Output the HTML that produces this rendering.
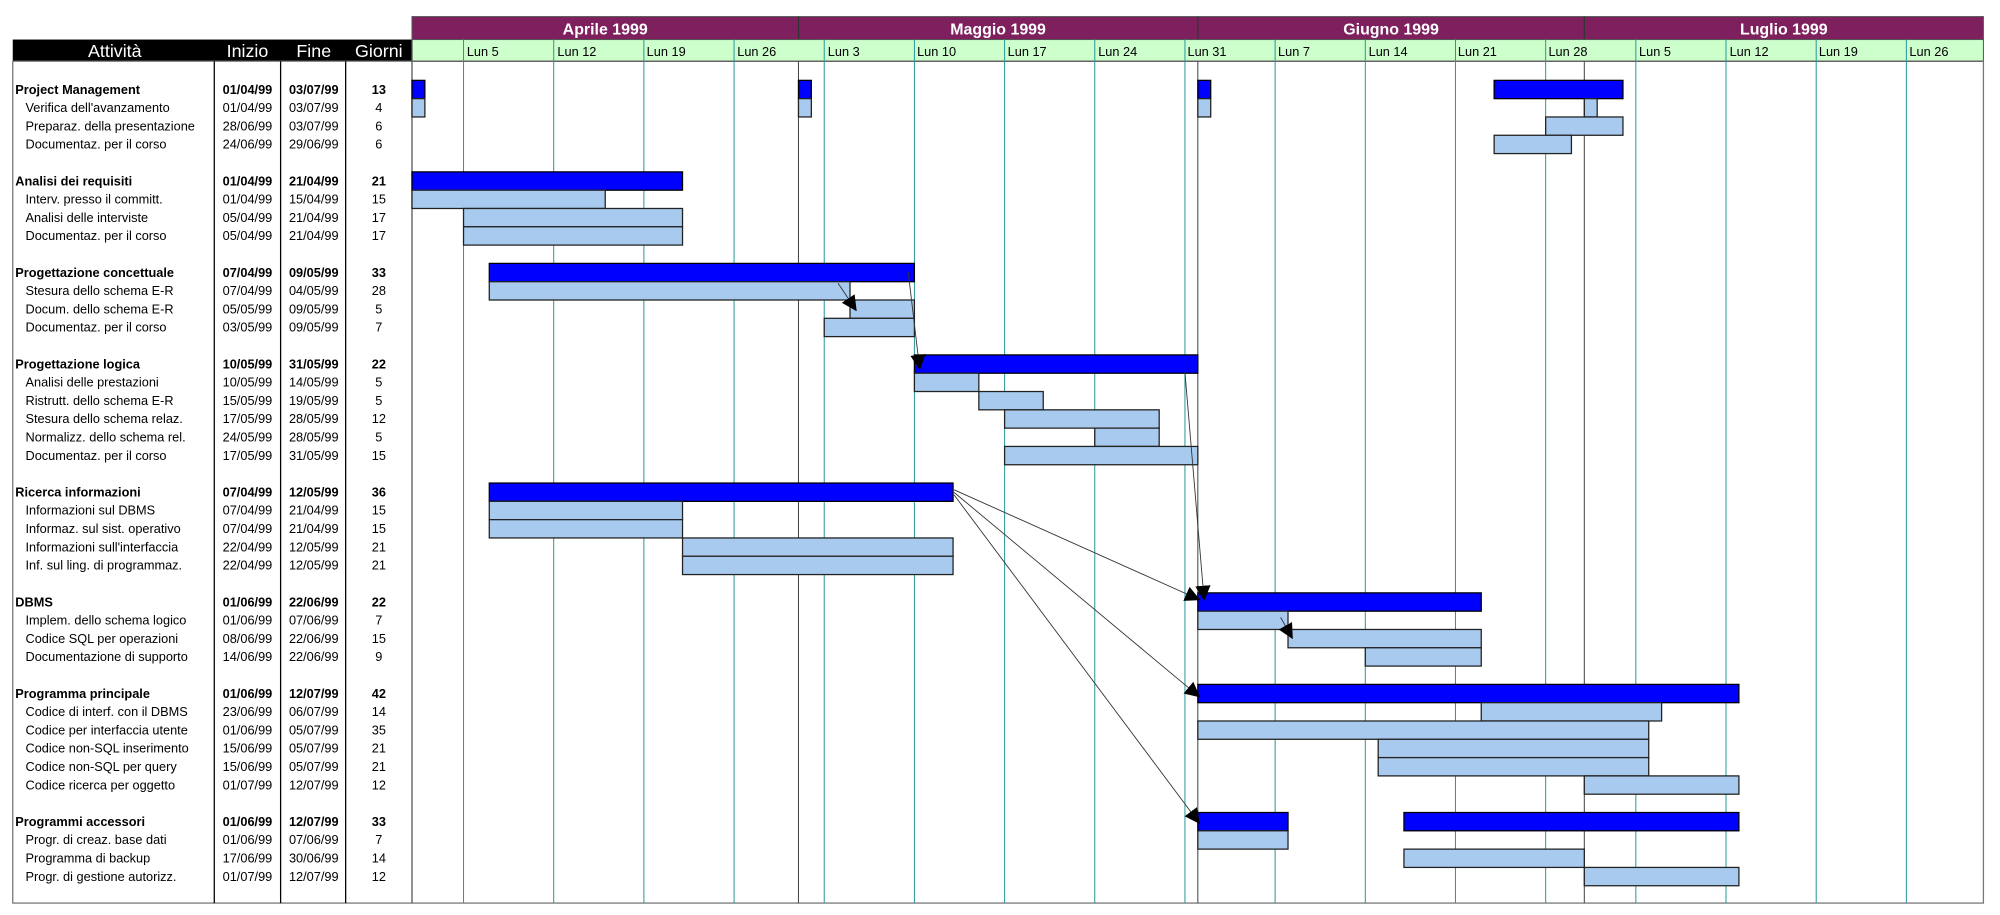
<!DOCTYPE html>
<html><head><meta charset="utf-8"><style>
html,body{margin:0;padding:0;background:#fff;}
svg{display:block;}
text{font-family:"Liberation Sans",Arial,sans-serif;}
.n{font-size:10px;fill:#000;}
.b{font-size:10px;font-weight:bold;fill:#000;}
.c{text-anchor:middle;}
.w{font-size:10px;fill:#000;}
.m{font-size:12.5px;font-weight:bold;fill:#fff;text-anchor:middle;}
.h{font-size:14px;fill:#fff;text-anchor:middle;}
.bl{fill:#0000ff;stroke:#000;stroke-width:1;}
.lb{fill:#a8caee;stroke:#222;stroke-width:1;}
.g{stroke:#2a9a9a;stroke-width:0.8;}
.mo{stroke:#444;stroke-width:0.8;}
.ar{stroke:#333;stroke-width:0.7;fill:none;marker-end:url(#ah);}
</style></head><body>
<svg width="2000" height="915" viewBox="0 0 1568 717.35" preserveAspectRatio="none" xmlns="http://www.w3.org/2000/svg">
<defs><marker id="ah" viewBox="0 0 10 10" refX="9" refY="5" markerWidth="12" markerHeight="12" markerUnits="userSpaceOnUse" orient="auto"><path d="M0,0 L10,5 L0,10 z" fill="#000"/></marker></defs>
<rect x="323" y="13" width="1232" height="18" fill="#7e1f5e" stroke="#555" stroke-width="0.8"/>
<line x1="626" y1="13" x2="626" y2="31" stroke="#333"/>
<line x1="939.1" y1="13" x2="939.1" y2="31" stroke="#333"/>
<line x1="1242.1" y1="13" x2="1242.1" y2="31" stroke="#333"/>
<text class="m" x="474.5" y="27">Aprile 1999</text>
<text class="m" x="782.5" y="27">Maggio 1999</text>
<text class="m" x="1090.6" y="27">Giugno 1999</text>
<text class="m" x="1398.5" y="27">Luglio 1999</text>
<rect x="323" y="31" width="1232" height="17" fill="#ccffcc" stroke="#555" stroke-width="0.8"/>
<line x1="323" y1="48" x2="1555" y2="48" stroke="#000" stroke-width="1.2"/>
<rect x="10" y="31" width="313" height="17" fill="#000"/>
<text class="h" x="90" y="44.5">Attività</text>
<text class="h" x="194" y="44.5">Inizio</text>
<text class="h" x="246" y="44.5">Fine</text>
<text class="h" x="297" y="44.5">Giorni</text>
<rect x="10" y="48" width="1545" height="660" fill="none" stroke="#777" stroke-width="1"/>
<line x1="168" y1="48" x2="168" y2="708" stroke="#000"/>
<line x1="220" y1="48" x2="220" y2="708" stroke="#000"/>
<line x1="271" y1="48" x2="271" y2="708" stroke="#000"/>
<line x1="323" y1="31" x2="323" y2="708" stroke="#555"/>
<g class="g">
<line x1="363.4" y1="31" x2="363.4" y2="708"/><line x1="434.1" y1="31" x2="434.1" y2="708"/><line x1="504.8" y1="31" x2="504.8" y2="708"/><line x1="575.5" y1="31" x2="575.5" y2="708"/><line x1="646.2" y1="31" x2="646.2" y2="708"/><line x1="716.9" y1="31" x2="716.9" y2="708"/><line x1="787.6" y1="31" x2="787.6" y2="708"/><line x1="858.3" y1="31" x2="858.3" y2="708"/><line x1="929" y1="31" x2="929" y2="708"/><line x1="999.7" y1="31" x2="999.7" y2="708"/><line x1="1070.4" y1="31" x2="1070.4" y2="708"/><line x1="1141.1" y1="31" x2="1141.1" y2="708"/><line x1="1211.8" y1="31" x2="1211.8" y2="708"/><line x1="1282.5" y1="31" x2="1282.5" y2="708"/><line x1="1353.2" y1="31" x2="1353.2" y2="708"/><line x1="1423.9" y1="31" x2="1423.9" y2="708"/><line x1="1494.6" y1="31" x2="1494.6" y2="708"/>
</g>
<g class="mo"><line x1="626" y1="48" x2="626" y2="708"/><line x1="939.1" y1="48" x2="939.1" y2="708"/><line x1="1242.1" y1="48" x2="1242.1" y2="708"/></g>
<g class="w">
<text x="366" y="44">Lun 5</text><text x="437" y="44">Lun 12</text><text x="507" y="44">Lun 19</text><text x="578" y="44">Lun 26</text><text x="649" y="44">Lun 3</text><text x="719" y="44">Lun 10</text><text x="790" y="44">Lun 17</text><text x="861" y="44">Lun 24</text><text x="931" y="44">Lun 31</text><text x="1002" y="44">Lun 7</text><text x="1073" y="44">Lun 14</text><text x="1143" y="44">Lun 21</text><text x="1214" y="44">Lun 28</text><text x="1285" y="44">Lun 5</text><text x="1356" y="44">Lun 12</text><text x="1426" y="44">Lun 19</text><text x="1497" y="44">Lun 26</text>
</g>
<g>
<rect class="bl" x="323" y="63" width="10.1" height="14.35"/><rect class="bl" x="626" y="63" width="10.1" height="14.35"/><rect class="bl" x="939.1" y="63" width="10.1" height="14.35"/><rect class="bl" x="1171.4" y="63" width="101" height="14.35"/>
<rect class="lb" x="323" y="77.35" width="10.1" height="14.35"/><rect class="lb" x="626" y="77.35" width="10.1" height="14.35"/><rect class="lb" x="939.1" y="77.35" width="10.1" height="14.35"/><rect class="lb" x="1242.1" y="77.35" width="10.1" height="14.35"/>
<rect class="lb" x="1211.8" y="91.7" width="60.6" height="14.35"/>
<rect class="lb" x="1171.4" y="106.05" width="60.6" height="14.35"/>
<rect class="bl" x="323" y="134.75" width="212.1" height="14.35"/>
<rect class="lb" x="323" y="149.1" width="151.5" height="14.35"/>
<rect class="lb" x="363.4" y="163.45" width="171.7" height="14.35"/>
<rect class="lb" x="363.4" y="177.8" width="171.7" height="14.35"/>
<rect class="bl" x="383.6" y="206.5" width="333.3" height="14.35"/>
<rect class="lb" x="383.6" y="220.85" width="282.8" height="14.35"/>
<rect class="lb" x="666.4" y="235.2" width="50.5" height="14.35"/>
<rect class="lb" x="646.2" y="249.55" width="70.7" height="14.35"/>
<rect class="bl" x="716.9" y="278.25" width="222.2" height="14.35"/>
<rect class="lb" x="716.9" y="292.6" width="50.5" height="14.35"/>
<rect class="lb" x="767.4" y="306.95" width="50.5" height="14.35"/>
<rect class="lb" x="787.6" y="321.3" width="121.2" height="14.35"/>
<rect class="lb" x="858.3" y="335.65" width="50.5" height="14.35"/>
<rect class="lb" x="787.6" y="350" width="151.5" height="14.35"/>
<rect class="bl" x="383.6" y="378.7" width="363.6" height="14.35"/>
<rect class="lb" x="383.6" y="393.05" width="151.5" height="14.35"/>
<rect class="lb" x="383.6" y="407.4" width="151.5" height="14.35"/>
<rect class="lb" x="535.1" y="421.75" width="212.1" height="14.35"/>
<rect class="lb" x="535.1" y="436.1" width="212.1" height="14.35"/>
<rect class="bl" x="939.1" y="464.8" width="222.2" height="14.35"/>
<rect class="lb" x="939.1" y="479.15" width="70.7" height="14.35"/>
<rect class="lb" x="1009.8" y="493.5" width="151.5" height="14.35"/>
<rect class="lb" x="1070.4" y="507.85" width="90.9" height="14.35"/>
<rect class="bl" x="939.1" y="536.55" width="424.2" height="14.35"/>
<rect class="lb" x="1161.3" y="550.9" width="141.4" height="14.35"/>
<rect class="lb" x="939.1" y="565.25" width="353.5" height="14.35"/>
<rect class="lb" x="1080.5" y="579.6" width="212.1" height="14.35"/>
<rect class="lb" x="1080.5" y="593.95" width="212.1" height="14.35"/>
<rect class="lb" x="1242.1" y="608.3" width="121.2" height="14.35"/>
<rect class="bl" x="939.1" y="637" width="70.7" height="14.35"/><rect class="bl" x="1100.7" y="637" width="262.6" height="14.35"/>
<rect class="lb" x="939.1" y="651.35" width="70.7" height="14.35"/>
<rect class="lb" x="1100.7" y="665.7" width="141.4" height="14.35"/>
<rect class="lb" x="1242.1" y="680.05" width="121.2" height="14.35"/>
</g>
<path class="ar" d="M657,222 L671,243"/>
<path class="ar" d="M712,213 L721,289"/>
<path class="ar" d="M929,292 L944,470"/>
<path class="ar" d="M748,384 L940,470"/>
<path class="ar" d="M748,386 L940,546"/>
<path class="ar" d="M748,388 L940,645"/>
<path class="ar" d="M1004,484 L1013,500"/>
<g>
<text class="b" x="12" y="73.5">Project Management</text><text class="b c" x="194" y="73.5">01/04/99</text><text class="b c" x="246" y="73.5">03/07/99</text><text class="b c" x="297" y="73.5">13</text>
<text class="n" x="20" y="87.85">Verifica dell'avanzamento</text><text class="n c" x="194" y="87.85">01/04/99</text><text class="n c" x="246" y="87.85">03/07/99</text><text class="n c" x="297" y="87.85">4</text>
<text class="n" x="20" y="102.2">Preparaz. della presentazione</text><text class="n c" x="194" y="102.2">28/06/99</text><text class="n c" x="246" y="102.2">03/07/99</text><text class="n c" x="297" y="102.2">6</text>
<text class="n" x="20" y="116.55">Documentaz. per il corso</text><text class="n c" x="194" y="116.55">24/06/99</text><text class="n c" x="246" y="116.55">29/06/99</text><text class="n c" x="297" y="116.55">6</text>
<text class="b" x="12" y="145.25">Analisi dei requisiti</text><text class="b c" x="194" y="145.25">01/04/99</text><text class="b c" x="246" y="145.25">21/04/99</text><text class="b c" x="297" y="145.25">21</text>
<text class="n" x="20" y="159.6">Interv. presso il committ.</text><text class="n c" x="194" y="159.6">01/04/99</text><text class="n c" x="246" y="159.6">15/04/99</text><text class="n c" x="297" y="159.6">15</text>
<text class="n" x="20" y="173.95">Analisi delle interviste</text><text class="n c" x="194" y="173.95">05/04/99</text><text class="n c" x="246" y="173.95">21/04/99</text><text class="n c" x="297" y="173.95">17</text>
<text class="n" x="20" y="188.3">Documentaz. per il corso</text><text class="n c" x="194" y="188.3">05/04/99</text><text class="n c" x="246" y="188.3">21/04/99</text><text class="n c" x="297" y="188.3">17</text>
<text class="b" x="12" y="217">Progettazione concettuale</text><text class="b c" x="194" y="217">07/04/99</text><text class="b c" x="246" y="217">09/05/99</text><text class="b c" x="297" y="217">33</text>
<text class="n" x="20" y="231.35">Stesura dello schema E-R</text><text class="n c" x="194" y="231.35">07/04/99</text><text class="n c" x="246" y="231.35">04/05/99</text><text class="n c" x="297" y="231.35">28</text>
<text class="n" x="20" y="245.7">Docum. dello schema E-R</text><text class="n c" x="194" y="245.7">05/05/99</text><text class="n c" x="246" y="245.7">09/05/99</text><text class="n c" x="297" y="245.7">5</text>
<text class="n" x="20" y="260.05">Documentaz. per il corso</text><text class="n c" x="194" y="260.05">03/05/99</text><text class="n c" x="246" y="260.05">09/05/99</text><text class="n c" x="297" y="260.05">7</text>
<text class="b" x="12" y="288.75">Progettazione logica</text><text class="b c" x="194" y="288.75">10/05/99</text><text class="b c" x="246" y="288.75">31/05/99</text><text class="b c" x="297" y="288.75">22</text>
<text class="n" x="20" y="303.1">Analisi delle prestazioni</text><text class="n c" x="194" y="303.1">10/05/99</text><text class="n c" x="246" y="303.1">14/05/99</text><text class="n c" x="297" y="303.1">5</text>
<text class="n" x="20" y="317.45">Ristrutt. dello schema E-R</text><text class="n c" x="194" y="317.45">15/05/99</text><text class="n c" x="246" y="317.45">19/05/99</text><text class="n c" x="297" y="317.45">5</text>
<text class="n" x="20" y="331.8">Stesura dello schema relaz.</text><text class="n c" x="194" y="331.8">17/05/99</text><text class="n c" x="246" y="331.8">28/05/99</text><text class="n c" x="297" y="331.8">12</text>
<text class="n" x="20" y="346.15">Normalizz. dello schema rel.</text><text class="n c" x="194" y="346.15">24/05/99</text><text class="n c" x="246" y="346.15">28/05/99</text><text class="n c" x="297" y="346.15">5</text>
<text class="n" x="20" y="360.5">Documentaz. per il corso</text><text class="n c" x="194" y="360.5">17/05/99</text><text class="n c" x="246" y="360.5">31/05/99</text><text class="n c" x="297" y="360.5">15</text>
<text class="b" x="12" y="389.2">Ricerca informazioni</text><text class="b c" x="194" y="389.2">07/04/99</text><text class="b c" x="246" y="389.2">12/05/99</text><text class="b c" x="297" y="389.2">36</text>
<text class="n" x="20" y="403.55">Informazioni sul DBMS</text><text class="n c" x="194" y="403.55">07/04/99</text><text class="n c" x="246" y="403.55">21/04/99</text><text class="n c" x="297" y="403.55">15</text>
<text class="n" x="20" y="417.9">Informaz. sul sist. operativo</text><text class="n c" x="194" y="417.9">07/04/99</text><text class="n c" x="246" y="417.9">21/04/99</text><text class="n c" x="297" y="417.9">15</text>
<text class="n" x="20" y="432.25">Informazioni sull'interfaccia</text><text class="n c" x="194" y="432.25">22/04/99</text><text class="n c" x="246" y="432.25">12/05/99</text><text class="n c" x="297" y="432.25">21</text>
<text class="n" x="20" y="446.6">Inf. sul ling. di programmaz.</text><text class="n c" x="194" y="446.6">22/04/99</text><text class="n c" x="246" y="446.6">12/05/99</text><text class="n c" x="297" y="446.6">21</text>
<text class="b" x="12" y="475.3">DBMS</text><text class="b c" x="194" y="475.3">01/06/99</text><text class="b c" x="246" y="475.3">22/06/99</text><text class="b c" x="297" y="475.3">22</text>
<text class="n" x="20" y="489.65">Implem. dello schema logico</text><text class="n c" x="194" y="489.65">01/06/99</text><text class="n c" x="246" y="489.65">07/06/99</text><text class="n c" x="297" y="489.65">7</text>
<text class="n" x="20" y="504">Codice SQL per operazioni</text><text class="n c" x="194" y="504">08/06/99</text><text class="n c" x="246" y="504">22/06/99</text><text class="n c" x="297" y="504">15</text>
<text class="n" x="20" y="518.35">Documentazione di supporto</text><text class="n c" x="194" y="518.35">14/06/99</text><text class="n c" x="246" y="518.35">22/06/99</text><text class="n c" x="297" y="518.35">9</text>
<text class="b" x="12" y="547.05">Programma principale</text><text class="b c" x="194" y="547.05">01/06/99</text><text class="b c" x="246" y="547.05">12/07/99</text><text class="b c" x="297" y="547.05">42</text>
<text class="n" x="20" y="561.4">Codice di interf. con il DBMS</text><text class="n c" x="194" y="561.4">23/06/99</text><text class="n c" x="246" y="561.4">06/07/99</text><text class="n c" x="297" y="561.4">14</text>
<text class="n" x="20" y="575.75">Codice per interfaccia utente</text><text class="n c" x="194" y="575.75">01/06/99</text><text class="n c" x="246" y="575.75">05/07/99</text><text class="n c" x="297" y="575.75">35</text>
<text class="n" x="20" y="590.1">Codice non-SQL inserimento</text><text class="n c" x="194" y="590.1">15/06/99</text><text class="n c" x="246" y="590.1">05/07/99</text><text class="n c" x="297" y="590.1">21</text>
<text class="n" x="20" y="604.45">Codice non-SQL per query</text><text class="n c" x="194" y="604.45">15/06/99</text><text class="n c" x="246" y="604.45">05/07/99</text><text class="n c" x="297" y="604.45">21</text>
<text class="n" x="20" y="618.8">Codice ricerca per oggetto</text><text class="n c" x="194" y="618.8">01/07/99</text><text class="n c" x="246" y="618.8">12/07/99</text><text class="n c" x="297" y="618.8">12</text>
<text class="b" x="12" y="647.5">Programmi accessori</text><text class="b c" x="194" y="647.5">01/06/99</text><text class="b c" x="246" y="647.5">12/07/99</text><text class="b c" x="297" y="647.5">33</text>
<text class="n" x="20" y="661.85">Progr. di creaz. base dati</text><text class="n c" x="194" y="661.85">01/06/99</text><text class="n c" x="246" y="661.85">07/06/99</text><text class="n c" x="297" y="661.85">7</text>
<text class="n" x="20" y="676.2">Programma di backup</text><text class="n c" x="194" y="676.2">17/06/99</text><text class="n c" x="246" y="676.2">30/06/99</text><text class="n c" x="297" y="676.2">14</text>
<text class="n" x="20" y="690.55">Progr. di gestione autorizz.</text><text class="n c" x="194" y="690.55">01/07/99</text><text class="n c" x="246" y="690.55">12/07/99</text><text class="n c" x="297" y="690.55">12</text>
</g>
</svg>
</body></html>
